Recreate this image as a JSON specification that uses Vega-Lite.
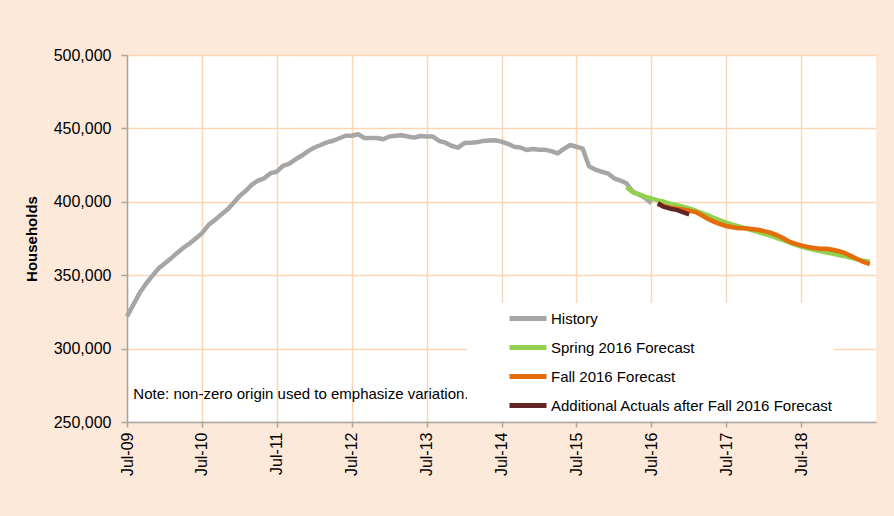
{
  "$schema": "https://vega.github.io/schema/vega-lite/v6.json",
  "width": 749,
  "height": 367,
  "autosize": {"type": "none"},
  "padding": {"left": 127, "top": 55, "right": 18, "bottom": 94},
  "config": {
    "background": "#FDE9D9",
    "font": "Liberation Sans",
    "view": {"fill": "white", "stroke": null},
    "axis": {
      "domainColor": "#A6A6A6",
      "domainWidth": 1.5,
      "tickColor": "#A6A6A6",
      "tickWidth": 1.5,
      "gridColor": "#FCD5B5",
      "gridWidth": 1.5,
      "labelColor": "black",
      "titleColor": "black",
      "labelFontSize": 16
    }
  },
  "layer": [
    {
      "data": {
        "values": [
          {"d":"2009-07-01","s":"History","v":322000},
          {"d":"2009-08-01","s":"History","v":330000},
          {"d":"2009-09-01","s":"History","v":338000},
          {"d":"2009-10-01","s":"History","v":344000},
          {"d":"2009-11-01","s":"History","v":349500},
          {"d":"2009-12-01","s":"History","v":354500},
          {"d":"2010-01-01","s":"History","v":358000},
          {"d":"2010-02-01","s":"History","v":361500},
          {"d":"2010-03-01","s":"History","v":365000},
          {"d":"2010-04-01","s":"History","v":368500},
          {"d":"2010-05-01","s":"History","v":371500},
          {"d":"2010-06-01","s":"History","v":375000},
          {"d":"2010-07-01","s":"History","v":378500},
          {"d":"2010-08-01","s":"History","v":384000},
          {"d":"2010-09-01","s":"History","v":387500},
          {"d":"2010-10-01","s":"History","v":391000},
          {"d":"2010-11-01","s":"History","v":394500},
          {"d":"2010-12-01","s":"History","v":399000},
          {"d":"2011-01-01","s":"History","v":404000},
          {"d":"2011-02-01","s":"History","v":407500},
          {"d":"2011-03-01","s":"History","v":411500},
          {"d":"2011-04-01","s":"History","v":414500},
          {"d":"2011-05-01","s":"History","v":416000},
          {"d":"2011-06-01","s":"History","v":419500},
          {"d":"2011-07-01","s":"History","v":420500},
          {"d":"2011-08-01","s":"History","v":424500},
          {"d":"2011-09-01","s":"History","v":426000},
          {"d":"2011-10-01","s":"History","v":429000},
          {"d":"2011-11-01","s":"History","v":431500},
          {"d":"2011-12-01","s":"History","v":434500},
          {"d":"2012-01-01","s":"History","v":437000},
          {"d":"2012-02-01","s":"History","v":438700},
          {"d":"2012-03-01","s":"History","v":440500},
          {"d":"2012-04-01","s":"History","v":441600},
          {"d":"2012-05-01","s":"History","v":443300},
          {"d":"2012-06-01","s":"History","v":445000},
          {"d":"2012-07-01","s":"History","v":445000},
          {"d":"2012-08-01","s":"History","v":446000},
          {"d":"2012-09-01","s":"History","v":443500},
          {"d":"2012-10-01","s":"History","v":443500},
          {"d":"2012-11-01","s":"History","v":443500},
          {"d":"2012-12-01","s":"History","v":442600},
          {"d":"2013-01-01","s":"History","v":444500},
          {"d":"2013-02-01","s":"History","v":445000},
          {"d":"2013-03-01","s":"History","v":445300},
          {"d":"2013-04-01","s":"History","v":444500},
          {"d":"2013-05-01","s":"History","v":443700},
          {"d":"2013-06-01","s":"History","v":444800},
          {"d":"2013-07-01","s":"History","v":444500},
          {"d":"2013-08-01","s":"History","v":444400},
          {"d":"2013-09-01","s":"History","v":441400},
          {"d":"2013-10-01","s":"History","v":440300},
          {"d":"2013-11-01","s":"History","v":438000},
          {"d":"2013-12-01","s":"History","v":436900},
          {"d":"2014-01-01","s":"History","v":440000},
          {"d":"2014-02-01","s":"History","v":440300},
          {"d":"2014-03-01","s":"History","v":440500},
          {"d":"2014-04-01","s":"History","v":441500},
          {"d":"2014-05-01","s":"History","v":441700},
          {"d":"2014-06-01","s":"History","v":441900},
          {"d":"2014-07-01","s":"History","v":441000},
          {"d":"2014-08-01","s":"History","v":439500},
          {"d":"2014-09-01","s":"History","v":437500},
          {"d":"2014-10-01","s":"History","v":437000},
          {"d":"2014-11-01","s":"History","v":435300},
          {"d":"2014-12-01","s":"History","v":436000},
          {"d":"2015-01-01","s":"History","v":435500},
          {"d":"2015-02-01","s":"History","v":435400},
          {"d":"2015-03-01","s":"History","v":434500},
          {"d":"2015-04-01","s":"History","v":433000},
          {"d":"2015-05-01","s":"History","v":436000},
          {"d":"2015-06-01","s":"History","v":438700},
          {"d":"2015-07-01","s":"History","v":437500},
          {"d":"2015-08-01","s":"History","v":436200},
          {"d":"2015-09-01","s":"History","v":424000},
          {"d":"2015-10-01","s":"History","v":422000},
          {"d":"2015-11-01","s":"History","v":420500},
          {"d":"2015-12-01","s":"History","v":419400},
          {"d":"2016-01-01","s":"History","v":416000},
          {"d":"2016-02-01","s":"History","v":414500},
          {"d":"2016-03-01","s":"History","v":412600},
          {"d":"2016-04-01","s":"History","v":407000},
          {"d":"2016-05-01","s":"History","v":405000},
          {"d":"2016-06-01","s":"History","v":402500},
          {"d":"2016-07-01","s":"History","v":399000},

          {"d":"2016-03-01","s":"Spring 2016 Forecast","v":410000},
          {"d":"2016-04-01","s":"Spring 2016 Forecast","v":406500},
          {"d":"2016-05-01","s":"Spring 2016 Forecast","v":405000},
          {"d":"2016-06-01","s":"Spring 2016 Forecast","v":403500},
          {"d":"2016-07-01","s":"Spring 2016 Forecast","v":402300},
          {"d":"2016-08-01","s":"Spring 2016 Forecast","v":401000},
          {"d":"2016-09-01","s":"Spring 2016 Forecast","v":400000},
          {"d":"2016-10-01","s":"Spring 2016 Forecast","v":398800},
          {"d":"2016-11-01","s":"Spring 2016 Forecast","v":397700},
          {"d":"2016-12-01","s":"Spring 2016 Forecast","v":396700},
          {"d":"2017-01-01","s":"Spring 2016 Forecast","v":395500},
          {"d":"2017-02-01","s":"Spring 2016 Forecast","v":394000},
          {"d":"2017-03-01","s":"Spring 2016 Forecast","v":392500},
          {"d":"2017-04-01","s":"Spring 2016 Forecast","v":391000},
          {"d":"2017-05-01","s":"Spring 2016 Forecast","v":389000},
          {"d":"2017-06-01","s":"Spring 2016 Forecast","v":387300},
          {"d":"2017-07-01","s":"Spring 2016 Forecast","v":385800},
          {"d":"2017-08-01","s":"Spring 2016 Forecast","v":384500},
          {"d":"2017-09-01","s":"Spring 2016 Forecast","v":383300},
          {"d":"2017-10-01","s":"Spring 2016 Forecast","v":382000},
          {"d":"2017-11-01","s":"Spring 2016 Forecast","v":380800},
          {"d":"2017-12-01","s":"Spring 2016 Forecast","v":379500},
          {"d":"2018-01-01","s":"Spring 2016 Forecast","v":378200},
          {"d":"2018-02-01","s":"Spring 2016 Forecast","v":377000},
          {"d":"2018-03-01","s":"Spring 2016 Forecast","v":375500},
          {"d":"2018-04-01","s":"Spring 2016 Forecast","v":374000},
          {"d":"2018-05-01","s":"Spring 2016 Forecast","v":372500},
          {"d":"2018-06-01","s":"Spring 2016 Forecast","v":370800},
          {"d":"2018-07-01","s":"Spring 2016 Forecast","v":369500},
          {"d":"2018-08-01","s":"Spring 2016 Forecast","v":368300},
          {"d":"2018-09-01","s":"Spring 2016 Forecast","v":367300},
          {"d":"2018-10-01","s":"Spring 2016 Forecast","v":366400},
          {"d":"2018-11-01","s":"Spring 2016 Forecast","v":365500},
          {"d":"2018-12-01","s":"Spring 2016 Forecast","v":364700},
          {"d":"2019-01-01","s":"Spring 2016 Forecast","v":363800},
          {"d":"2019-02-01","s":"Spring 2016 Forecast","v":362800},
          {"d":"2019-03-01","s":"Spring 2016 Forecast","v":361800},
          {"d":"2019-04-01","s":"Spring 2016 Forecast","v":360800},
          {"d":"2019-05-01","s":"Spring 2016 Forecast","v":359800},
          {"d":"2019-06-01","s":"Spring 2016 Forecast","v":359000},

          {"d":"2016-08-01","s":"Fall 2016 Forecast","v":398300},
          {"d":"2016-09-01","s":"Fall 2016 Forecast","v":397000},
          {"d":"2016-10-01","s":"Fall 2016 Forecast","v":396000},
          {"d":"2016-11-01","s":"Fall 2016 Forecast","v":395300},
          {"d":"2016-12-01","s":"Fall 2016 Forecast","v":394800},
          {"d":"2017-01-01","s":"Fall 2016 Forecast","v":394000},
          {"d":"2017-02-01","s":"Fall 2016 Forecast","v":393000},
          {"d":"2017-03-01","s":"Fall 2016 Forecast","v":391000},
          {"d":"2017-04-01","s":"Fall 2016 Forecast","v":388500},
          {"d":"2017-05-01","s":"Fall 2016 Forecast","v":386500},
          {"d":"2017-06-01","s":"Fall 2016 Forecast","v":384800},
          {"d":"2017-07-01","s":"Fall 2016 Forecast","v":383500},
          {"d":"2017-08-01","s":"Fall 2016 Forecast","v":382700},
          {"d":"2017-09-01","s":"Fall 2016 Forecast","v":382000},
          {"d":"2017-10-01","s":"Fall 2016 Forecast","v":382000},
          {"d":"2017-11-01","s":"Fall 2016 Forecast","v":381500},
          {"d":"2017-12-01","s":"Fall 2016 Forecast","v":381000},
          {"d":"2018-01-01","s":"Fall 2016 Forecast","v":380000},
          {"d":"2018-02-01","s":"Fall 2016 Forecast","v":379000},
          {"d":"2018-03-01","s":"Fall 2016 Forecast","v":377500},
          {"d":"2018-04-01","s":"Fall 2016 Forecast","v":375500},
          {"d":"2018-05-01","s":"Fall 2016 Forecast","v":373000},
          {"d":"2018-06-01","s":"Fall 2016 Forecast","v":371500},
          {"d":"2018-07-01","s":"Fall 2016 Forecast","v":370300},
          {"d":"2018-08-01","s":"Fall 2016 Forecast","v":369300},
          {"d":"2018-09-01","s":"Fall 2016 Forecast","v":368500},
          {"d":"2018-10-01","s":"Fall 2016 Forecast","v":368000},
          {"d":"2018-11-01","s":"Fall 2016 Forecast","v":368000},
          {"d":"2018-12-01","s":"Fall 2016 Forecast","v":367300},
          {"d":"2019-01-01","s":"Fall 2016 Forecast","v":366300},
          {"d":"2019-02-01","s":"Fall 2016 Forecast","v":365000},
          {"d":"2019-03-01","s":"Fall 2016 Forecast","v":363000},
          {"d":"2019-04-01","s":"Fall 2016 Forecast","v":361000},
          {"d":"2019-05-01","s":"Fall 2016 Forecast","v":359000},
          {"d":"2019-06-01","s":"Fall 2016 Forecast","v":357500},

          {"d":"2016-08-01","s":"Additional Actuals after Fall 2016 Forecast","v":399000},
          {"d":"2016-09-01","s":"Additional Actuals after Fall 2016 Forecast","v":396500},
          {"d":"2016-10-01","s":"Additional Actuals after Fall 2016 Forecast","v":395300},
          {"d":"2016-11-01","s":"Additional Actuals after Fall 2016 Forecast","v":394500},
          {"d":"2016-12-01","s":"Additional Actuals after Fall 2016 Forecast","v":393000},
          {"d":"2017-01-01","s":"Additional Actuals after Fall 2016 Forecast","v":391500}
        ]
      },
      "mark": {"type": "line", "strokeWidth": 4.5, "strokeJoin": "round"},
      "encoding": {
        "x": {
          "field": "d",
          "type": "temporal",
          "scale": {
            "type": "utc",
            "nice": false,
            "domain": [
              {"year": 2009, "month": 7, "date": 1, "utc": true},
              {"year": 2019, "month": 7, "date": 1, "utc": true}
            ]
          },
          "axis": {
            "title": null,
            "zindex": 0,
            "grid": true,
            "labelAngle": -90,
            "tickSize": 5,
            "labelPadding": 5,
            "values": [
              {"year": 2009, "month": 7, "date": 1, "utc": true},
              {"year": 2010, "month": 7, "date": 1, "utc": true},
              {"year": 2011, "month": 7, "date": 1, "utc": true},
              {"year": 2012, "month": 7, "date": 1, "utc": true},
              {"year": 2013, "month": 7, "date": 1, "utc": true},
              {"year": 2014, "month": 7, "date": 1, "utc": true},
              {"year": 2015, "month": 7, "date": 1, "utc": true},
              {"year": 2016, "month": 7, "date": 1, "utc": true},
              {"year": 2017, "month": 7, "date": 1, "utc": true},
              {"year": 2018, "month": 7, "date": 1, "utc": true}
            ],
            "labelExpr": "utcFormat(datum.value, '%b-%y')"
          }
        },
        "y": {
          "field": "v",
          "type": "quantitative",
          "scale": {"domain": [250000, 500000], "zero": false, "nice": false},
          "axis": {
            "title": "Households",
            "titleFontSize": 15,
            "titleFontWeight": "bold",
            "titlePadding": 14,
            "zindex": 0,
            "grid": true,
            "tickSize": 6,
            "labelPadding": 10,
            "values": [250000, 300000, 350000, 400000, 450000, 500000],
            "format": ",d"
          }
        },
        "color": {
          "field": "s",
          "type": "nominal",
          "scale": {
            "domain": ["History", "Spring 2016 Forecast", "Fall 2016 Forecast", "Additional Actuals after Fall 2016 Forecast"],
            "range": ["#A6A6A6", "#92D050", "#E46C0A", "#632523"]
          },
          "legend": {
            "title": null,
            "orient": "none",
            "legendX": 340,
            "legendY": 248,
            "direction": "vertical",
            "fillColor": "white",
            "padding": 1,
            "symbolType": "stroke",
            "symbolSize": 1369,
            "symbolStrokeWidth": 5,
            "symbolOffset": 39,
            "labelOffset": 2,
            "labelFontSize": 15,
            "labelColor": "black",
            "labelLimit": 400,
            "clipHeight": 29,
            "rowPadding": 0
          }
        }
      }
    },
    {
      "data": {"values": [{"note": "Note: non-zero origin used to emphasize variation."}]},
      "mark": {"type": "text", "align": "left", "baseline": "middle", "fontSize": 15, "color": "black"},
      "encoding": {
        "x": {"datum": {"year": 2009, "month": 8, "date": 1, "utc": true}, "type": "temporal"},
        "y": {"datum": 269000, "type": "quantitative"},
        "text": {"field": "note"}
      }
    }
  ]
}
